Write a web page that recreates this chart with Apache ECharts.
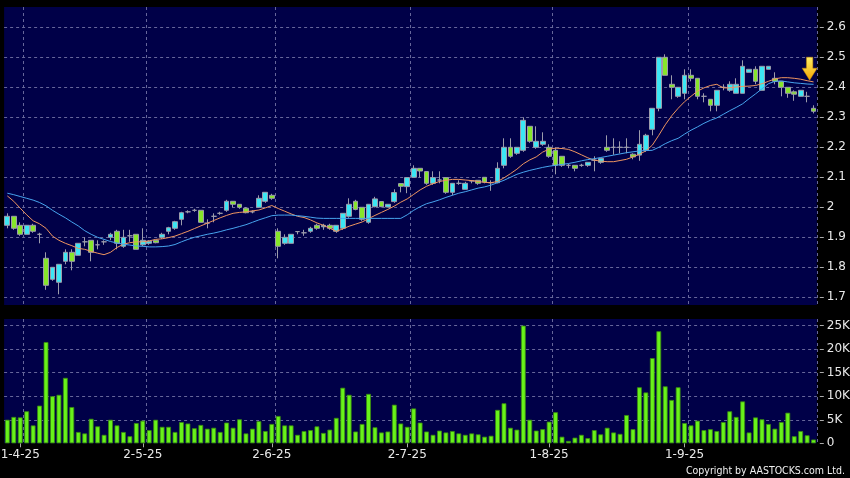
<!DOCTYPE html>
<html>
<head>
<meta charset="utf-8">
<title>Daily chart</title>
<style>
  html, body { margin: 0; padding: 0; background: #000; }
  #chart { width: 850px; height: 478px; }
</style>
<script src="https://cdn.jsdelivr.net/npm/echarts@6/dist/echarts.min.js"></script>
</head>
<body>
<div id="chart"></div>
<script>
// trading days on the chart, month by month (2025)
const tradingDays = [
	[3, [28, 31]],
	[4, [1, 2, 3, 7, 8, 9, 10, 11, 14, 15, 16, 17, 22, 23, 24, 25, 28, 29, 30]],
	[5, [2, 6, 7, 8, 9, 12, 13, 14, 15, 16, 19, 20, 21, 22, 23, 26, 27, 28, 29, 30]],
	[6, [2, 3, 4, 5, 6, 9, 10, 11, 12, 13, 16, 17, 18, 19, 20, 23, 24, 25, 26, 27, 30]],
	[7, [2, 3, 4, 7, 8, 9, 10, 11, 14, 15, 16, 17, 18, 21, 22, 23, 24, 25, 28, 29, 30, 31]],
	[8, [1, 4, 5, 6, 7, 8, 11, 12, 13, 14, 15, 18, 19, 20, 21, 22, 25, 26, 27, 28, 29]],
	[9, [1, 2, 3, 4, 5, 8, 9, 10, 11, 12, 15, 16, 17, 18, 19, 22, 23, 24, 25, 26, 29]]
]

// [open, close, low, high]
const candles = [
	[1.94, 1.97, 1.93, 1.98], [1.97, 1.93, 1.925, 1.97], [1.94, 1.91, 1.905, 1.95], [1.91, 1.94, 1.91, 1.94],
	[1.94, 1.92, 1.915, 1.945], [1.91, 1.91, 1.88, 1.915], [1.83, 1.74, 1.725, 1.85], [1.76, 1.80, 1.755, 1.80],
	[1.75, 1.81, 1.71, 1.81], [1.82, 1.85, 1.81, 1.86], [1.85, 1.82, 1.79, 1.86], [1.84, 1.88, 1.84, 1.88],
	[1.885, 1.885, 1.87, 1.90], [1.89, 1.85, 1.82, 1.89], [1.875, 1.875, 1.86, 1.89], [1.885, 1.885, 1.875, 1.89],
	[1.90, 1.91, 1.89, 1.915], [1.92, 1.88, 1.86, 1.925], [1.87, 1.90, 1.865, 1.925], [1.905, 1.905, 1.885, 1.925],
	[1.91, 1.86, 1.86, 1.91], [1.875, 1.89, 1.87, 1.93], [1.88, 1.887, 1.875, 1.89], [1.89, 1.882, 1.88, 1.89],
	[1.90, 1.91, 1.895, 1.915], [1.92, 1.932, 1.91, 1.935], [1.93, 1.952, 1.925, 1.955], [1.96, 1.982, 1.94, 1.985],
	[1.985, 1.985, 1.98, 1.99], [1.99, 1.99, 1.985, 1.995], [1.99, 1.95, 1.95, 1.99], [1.947, 1.947, 1.93, 1.96],
	[1.97, 1.97, 1.95, 1.98], [1.98, 1.98, 1.975, 1.985], [1.99, 2.02, 1.985, 2.025], [2.02, 2.01, 2.0, 2.02],
	[2.01, 2.00, 1.995, 2.01], [1.997, 1.982, 1.98, 2.0], [1.985, 1.985, 1.98, 1.99], [2.00, 2.03, 2.0, 2.04],
	[2.02, 2.05, 2.015, 2.05], [2.04, 2.03, 2.025, 2.045], [1.92, 1.87, 1.83, 1.93], [1.88, 1.90, 1.875, 1.91],
	[1.88, 1.91, 1.88, 1.91], [1.919, 1.919, 1.91, 1.92], [1.915, 1.915, 1.905, 1.925], [1.92, 1.93, 1.915, 1.935],
	[1.94, 1.93, 1.925, 1.945], [1.935, 1.94, 1.925, 1.945], [1.94, 1.93, 1.925, 1.945], [1.92, 1.94, 1.915, 1.94],
	[1.93, 1.98, 1.925, 1.98], [1.97, 2.01, 1.965, 2.03], [2.02, 1.993, 1.99, 2.025], [2.0, 1.96, 1.955, 2.0],
	[1.95, 2.01, 1.945, 2.01], [2.002, 2.028, 2.0, 2.035], [2.019, 2.002, 2.0, 2.02], [2.001, 2.01, 2.0, 2.01],
	[2.019, 2.049, 2.015, 2.06], [2.079, 2.07, 2.05, 2.08], [2.069, 2.099, 2.047, 2.10], [2.10, 2.13, 2.10, 2.14],
	[2.13, 2.121, 2.10, 2.13], [2.119, 2.08, 2.075, 2.12], [2.08, 2.099, 2.075, 2.12], [2.091, 2.091, 2.08, 2.12],
	[2.099, 2.05, 2.045, 2.10], [2.05, 2.08, 2.04, 2.08], [2.08, 2.08, 2.075, 2.09], [2.06, 2.08, 2.06, 2.085],
	[2.088, 2.088, 2.08, 2.09], [2.09, 2.08, 2.075, 2.09], [2.10, 2.084, 2.08, 2.10], [2.082, 2.082, 2.055, 2.09],
	[2.082, 2.13, 2.08, 2.15], [2.14, 2.20, 2.13, 2.23], [2.20, 2.17, 2.165, 2.23], [2.18, 2.20, 2.175, 2.20],
	[2.19, 2.29, 2.185, 2.30], [2.27, 2.22, 2.215, 2.27], [2.20, 2.22, 2.195, 2.27], [2.21, 2.22, 2.205, 2.25],
	[2.20, 2.17, 2.165, 2.21], [2.19, 2.14, 2.11, 2.20], [2.17, 2.14, 2.135, 2.17], [2.14, 2.14, 2.13, 2.145],
	[2.14, 2.13, 2.12, 2.14], [2.14, 2.14, 2.135, 2.145], [2.14, 2.15, 2.135, 2.15], [2.157, 2.157, 2.12, 2.17],
	[2.15, 2.163, 2.145, 2.165], [2.20, 2.19, 2.185, 2.24], [2.20, 2.20, 2.175, 2.23], [2.20, 2.20, 2.18, 2.22],
	[2.20, 2.20, 2.18, 2.23], [2.177, 2.168, 2.16, 2.18], [2.174, 2.21, 2.155, 2.257], [2.19, 2.24, 2.185, 2.245],
	[2.26, 2.33, 2.24, 2.33], [2.33, 2.50, 2.32, 2.50], [2.50, 2.44, 2.44, 2.51], [2.41, 2.40, 2.36, 2.44],
	[2.37, 2.40, 2.365, 2.40], [2.38, 2.44, 2.36, 2.46], [2.44, 2.43, 2.42, 2.46], [2.43, 2.37, 2.36, 2.43],
	[2.37, 2.37, 2.35, 2.38], [2.36, 2.34, 2.32, 2.36], [2.34, 2.39, 2.32, 2.39], [2.40, 2.40, 2.39, 2.41],
	[2.39, 2.41, 2.385, 2.42], [2.38, 2.41, 2.38, 2.43], [2.38, 2.47, 2.38, 2.49], [2.45, 2.46, 2.45, 2.46],
	[2.46, 2.42, 2.41, 2.47], [2.39, 2.47, 2.39, 2.47], [2.46, 2.47, 2.46, 2.47], [2.43, 2.42, 2.41, 2.45],
	[2.42, 2.40, 2.37, 2.42], [2.40, 2.38, 2.365, 2.40], [2.385, 2.377, 2.355, 2.39], [2.37, 2.39, 2.37, 2.39],
	[2.37, 2.37, 2.35, 2.385], [2.33, 2.32, 2.313, 2.34]
]

// moving averages as drawn (orange / blue)
const ma10 = [
	2.038, 2.02, 1.997, 1.975, 1.955, 1.945, 1.93, 1.904, 1.89, 1.88,
	1.872, 1.863, 1.86, 1.853, 1.847, 1.842, 1.85, 1.866, 1.877, 1.882,
	1.885, 1.885, 1.888, 1.893, 1.895, 1.899, 1.904, 1.912, 1.92, 1.929,
	1.938, 1.947, 1.956, 1.965, 1.973, 1.98, 1.983, 1.985, 1.988, 1.991,
	1.998, 2.006, 1.996, 1.987, 1.978, 1.97, 1.966, 1.958, 1.948, 1.94,
	1.93, 1.92, 1.928, 1.937, 1.944, 1.951, 1.962, 1.973, 1.983, 1.993,
	2.004, 2.017, 2.028, 2.043, 2.058, 2.07, 2.079, 2.086, 2.09, 2.093,
	2.093, 2.091, 2.089, 2.086, 2.083, 2.082, 2.086, 2.098, 2.112, 2.127,
	2.145, 2.158, 2.168, 2.184, 2.194, 2.197, 2.196, 2.193, 2.185, 2.175,
	2.165, 2.157, 2.154, 2.152, 2.152, 2.156, 2.16, 2.168, 2.177, 2.188,
	2.207, 2.24, 2.275, 2.305, 2.33, 2.352, 2.37, 2.387, 2.398, 2.406,
	2.41, 2.398, 2.398, 2.401, 2.403, 2.404, 2.406, 2.412, 2.42, 2.428,
	2.432, 2.432, 2.43, 2.427, 2.422, 2.418
]
const ma20 = [
	2.047, 2.042, 2.036, 2.03, 2.024, 2.016, 2.005, 1.99, 1.977, 1.965,
	1.951, 1.938, 1.922, 1.91, 1.9, 1.893, 1.886, 1.881, 1.877, 1.874,
	1.871, 1.87, 1.868, 1.868, 1.869, 1.871, 1.876, 1.885, 1.893, 1.9,
	1.905, 1.91, 1.914, 1.919, 1.925, 1.93, 1.936, 1.942, 1.95, 1.958,
	1.965, 1.972, 1.974, 1.974, 1.974, 1.972, 1.97, 1.967, 1.964, 1.963,
	1.963, 1.963, 1.963, 1.963, 1.963, 1.963, 1.963, 1.963, 1.963, 1.963,
	1.963, 1.963, 1.975, 1.99, 2.002, 2.012, 2.018, 2.025, 2.033, 2.04,
	2.047, 2.052, 2.058, 2.064, 2.068, 2.074, 2.082, 2.09, 2.1, 2.11,
	2.117, 2.123, 2.128, 2.133, 2.137, 2.14, 2.143, 2.146, 2.15, 2.155,
	2.159, 2.162, 2.166, 2.17, 2.174, 2.178, 2.182, 2.185, 2.188, 2.189,
	2.19, 2.2, 2.212, 2.222, 2.23, 2.244, 2.257, 2.268, 2.28, 2.29,
	2.298, 2.31, 2.322, 2.333, 2.345, 2.362, 2.378, 2.395, 2.412, 2.42,
	2.421, 2.418, 2.415, 2.413, 2.411, 2.41
]

// volume, shares
const volumes = [
	5000, 5600, 5500, 6800, 3800, 8000, 21500, 10000, 10300, 13900,
	7700, 2400, 2100, 5200, 3600, 1800, 5000, 3800, 2400, 1500,
	4300, 4800, 2800, 5000, 3500, 3500, 2400, 4500, 4200, 3200,
	3900, 3100, 3300, 2400, 4400, 3300, 5100, 2100, 3100, 4700,
	2600, 4100, 5800, 3800, 3800, 1800, 2600, 2800, 3600, 2200,
	2900, 5400, 11800, 10300, 2500, 4100, 10500, 3400, 2300, 2500,
	8200, 4200, 3500, 7400, 4400, 2500, 1800, 2700, 2300, 2600,
	2100, 1800, 2100, 1900, 1400, 1600, 7100, 8500, 3300, 2900,
	25000, 5000, 2700, 3000, 4600, 6600, 1400, 500, 1200, 1800,
	1100, 2800, 1900, 3300, 2300, 2000, 6000, 3000, 11900, 10800,
	18100, 23800, 12100, 9200, 11900, 4300, 3800, 4800, 2800, 3000,
	2600, 4500, 6800, 5600, 8900, 2300, 5500, 5100, 4100, 3100,
	4500, 6500, 1500, 2600, 1700, 800
]

const priceTicks = { min: 1.7, max: 2.6, step: 0.1 }
const volumeTicks = { min: 0, max: 25000, step: 5000 }

const dates = []
const monthFirst = []
tradingDays.forEach(([m, days], k) => {
	if (k > 0) monthFirst.push(dates.length)
	days.forEach(d => dates.push(d + '-' + m + '-25'))
})
// the dashed month lines sit just right of the first bar of the month
const monthLine = monthFirst.map(i => i + 1)

const PANEL = '#000048'
const GRID_LINE = '#66669a'
const FONT = 'DejaVu Sans'
const plotLeft = 4.1
const plotWidth = 812.7

const chart = echarts.init(document.getElementById('chart'))

const dashed = { color: GRID_LINE, width: 1, type: [3, 3] }

chart.setOption({
	animation: false,
	backgroundColor: '#000',
	grid: [
		{ left: plotLeft, width: plotWidth, top: 7, height: 298, show: true, backgroundColor: PANEL, borderWidth: 0, outerBoundsMode: 'none' },
		{ left: plotLeft, width: plotWidth, top: 27.3, height: 270, outerBoundsMode: 'none' },
		{ left: plotLeft, width: plotWidth, top: 319, height: 124.3, show: true, backgroundColor: PANEL, borderWidth: 0, outerBoundsMode: 'none' },
		{ left: plotLeft, width: plotWidth, top: 325.6, height: 117.7, outerBoundsMode: 'none' }
	],
	xAxis: [
		{
			type: 'category', gridIndex: 0, data: dates,
			axisLine: { show: false }, axisTick: { show: false }, axisLabel: { show: false },
			splitLine: { show: true, interval: i => monthLine.indexOf(i) >= 0, lineStyle: dashed }
		},
		{ type: 'category', gridIndex: 1, data: dates, show: false },
		{
			type: 'category', gridIndex: 2, data: dates, offset: 3,
			axisLine: { show: false },
			axisTick: { show: true, alignWithLabel: true, length: 4, interval: i => monthFirst.indexOf(i) >= 0, lineStyle: { color: '#aaa' } },
			axisLabel: { interval: i => monthFirst.indexOf(i) >= 0, color: '#e8e8e8', fontFamily: FONT, fontSize: 12, margin: 3 },
			splitLine: { show: true, interval: i => monthLine.indexOf(i) >= 0, lineStyle: dashed }
		},
		{ type: 'category', gridIndex: 3, data: dates, show: false }
	],
	yAxis: [
		{ type: 'value', gridIndex: 0, min: 0, max: 1, show: false },
		{
			type: 'value', gridIndex: 1, position: 'right', offset: 3,
			min: priceTicks.min, max: priceTicks.max, interval: priceTicks.step,
			axisLine: { show: false },
			axisTick: { show: true, length: 4, lineStyle: { color: '#aaa' } },
			axisLabel: { color: '#e8e8e8', fontFamily: FONT, fontSize: 12, margin: 7 },
			splitLine: { show: true, lineStyle: dashed }
		},
		{ type: 'value', gridIndex: 2, min: 0, max: 1, show: false },
		{
			type: 'value', gridIndex: 3, position: 'right', offset: 3,
			min: volumeTicks.min, max: volumeTicks.max, interval: volumeTicks.step,
			axisLine: { show: false },
			axisTick: { show: true, length: 4, lineStyle: { color: '#aaa' } },
			axisLabel: {
				color: '#e8e8e8', fontFamily: FONT, fontSize: 12, margin: 7,
				formatter: v => (v ? v / 1000 + 'K' : '0')
			},
			splitLine: { show: true, showMinLine: false, lineStyle: dashed }
		}
	],
	graphic: [
		{
			type: 'text', right: 5, bottom: 1,
			style: { text: 'Copyright by AASTOCKS.com Ltd.', fill: '#f0f0f0', font: '10.5px "DejaVu Sans Condensed", "DejaVu Sans"' }
		}
	],
	series: [
		{
			name: 'price', type: 'candlestick', xAxisIndex: 1, yAxisIndex: 1,
			data: candles, barWidth: 5.2,
			itemStyle: {
				color: '#3ce6f4', color0: '#86e62a',
				borderColor: '#9c9cab', borderColor0: '#9c9cab', borderWidth: 1
			},
			emphasis: { disabled: true },
			markPoint: {
				silent: true,
				symbol: 'path://M4,0H10V11H14L7,23L0,11H4Z',
				symbolSize: [15, 23],
				symbolOffset: [2.5, -12],
				label: { show: false },
				itemStyle: {
					color: new echarts.graphic.LinearGradient(0, 0, 0, 1, [
						{ offset: 0, color: '#fff066' },
						{ offset: 1, color: '#f2a300' }
					]),
					borderColor: '#c88400', borderWidth: 0.5
				},
				data: [{ coord: [dates[124], ma10[124]] }]
			}
		},
		{
			name: 'MA10', type: 'line', xAxisIndex: 1, yAxisIndex: 1, z: 5,
			data: ma10, symbol: 'none',
			lineStyle: { color: '#ef9560', width: 1 }, emphasis: { disabled: true }
		},
		{
			name: 'MA20', type: 'line', xAxisIndex: 1, yAxisIndex: 1, z: 5,
			data: ma20, symbol: 'none',
			lineStyle: { color: '#47a4ee', width: 1 }, emphasis: { disabled: true }
		},
		{
			name: 'volume', type: 'bar', xAxisIndex: 3, yAxisIndex: 3,
			data: volumes, barWidth: 4.8,
			itemStyle: { color: '#68f21a', borderColor: '#3a8a10', borderWidth: 0.8 },
			emphasis: { disabled: true }
		}
	]
})
</script>
</body>
</html>
